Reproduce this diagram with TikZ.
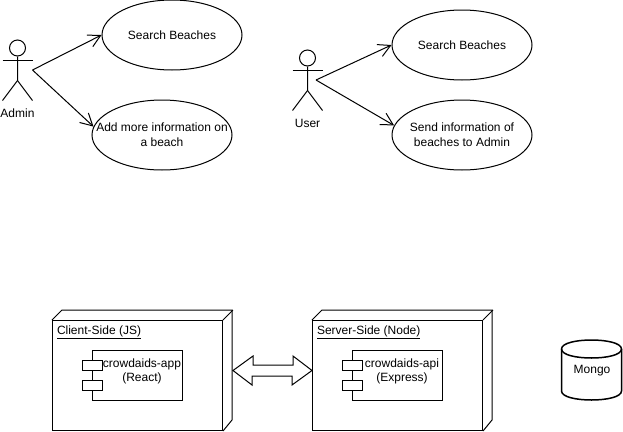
\documentclass[tikz,border=0pt]{standalone}
\usepackage{fontspec}
\setmainfont{Liberation Sans}
\usepackage{tikz}
\usetikzlibrary{arrows.meta,positioning,shapes.geometric}
\tikzset{
  usecase/.style={draw, ellipse, minimum width=140pt, minimum height=70pt, inner sep=0pt},
  head/.style={draw, circle, minimum size=16pt, inner sep=0pt},
  limb/.style={line width=1pt},
  lbl/.style={font=\fontsize{12}{14}\selectfont, align=center, inner sep=0pt},
  arr/.style={-{Straight Barb[length=12pt, width=13pt]}, line width=1pt},
  deploy/.style={draw, rectangle, minimum width=170pt, minimum height=110pt, inner sep=0pt, line width=1pt},
  comp/.style={draw, rectangle, minimum width=90pt, minimum height=50pt, inner sep=0pt, line width=1pt},
  port/.style={draw, rectangle, fill=white, minimum width=20pt, minimum height=10pt, inner sep=0pt, line width=1pt},
  store/.style={rectangle, minimum width=60pt, minimum height=60pt, inner sep=0pt},
  storeline/.style={line width=1.5pt},
  flow/.style={line width=1pt, line join=miter}
}
\begin{document}
\begin{tikzpicture}[x=1pt, y=-1pt, line width=1pt]
\useasboundingbox (0,0) rectangle (623,431);
% admin use cases
\node[head, limb] (adminhead) at (17.5,48) {};
\draw[limb] (adminhead.south) -- ++(0,24) coordinate (adminhip) -- ++(-15,20);
\draw[limb] (adminhip) -- ++(15,20);
\draw[limb] (2.5,60) -- (32.5,60);
\coordinate (adminhand) at (32.5,70);
\node[lbl] (admin) at (17.5,113) {Admin};
\node[usecase] (search) at (172,35) {};
\node[lbl] at (search) {Search Beaches};
\node[usecase] (addinfo) at (162,135) {};
\node[lbl] at (addinfo) {Add more information on\\[1pt]a beach};
\draw[arr] (adminhand) -- (search.west);
\draw[arr] (adminhand) -- (addinfo.173);
% user use cases
\node[head, limb] (userhead) at (307.5,58) {};
\draw[limb] (userhead.south) -- ++(0,24) coordinate (userhip) -- ++(-15,20);
\draw[limb] (userhip) -- ++(15,20);
\draw[limb] (292.5,70) -- (322.5,70);
\coordinate (userhand) at (316,80);
\node[lbl] (user) at (307.5,123) {User};
\node[usecase] (usearch) at (462,45) {};
\node[lbl] at (usearch) {Search Beaches};
\node[usecase] (sendinfo) at (462,135) {};
\node[lbl] at (sendinfo) {Send information of\\[1pt]beaches to Admin};
\draw[arr] (userhand) -- (usearch.west);
\draw[arr] (userhand) -- (sendinfo.172);
% deployment
\node[deploy] (client) at (137.5,375.5) {};
\draw[limb] (client.north west) -- ++(10,-10) -- ++(170,0) -- ++(0,110) -- (client.south east);
\draw[limb] (client.north east) -- ++(10,-10);
\node[lbl, anchor=west] (clienttitle) at (56.5,332) {\underline{Client-Side (JS)}};
\node[comp] (app) at (137.5,375.5) {};
\node[port] (appporta) at ([yshift=10pt]app.west) {};
\node[port] (appportb) at ([yshift=-10pt]app.west) {};
\node[lbl] (applabel) at (142,371) {crowdaids-app\\(React)};
\node[deploy] (server) at (397.5,375.5) {};
\draw[limb] (server.north west) -- ++(10,-10) -- ++(170,0) -- ++(0,110) -- (server.south east);
\draw[limb] (server.north east) -- ++(10,-10);
\node[lbl, anchor=west] (servertitle) at (316.5,332) {\underline{Server-Side (Node)}};
\node[comp] (api) at (397.5,375.5) {};
\node[port] (apiporta) at ([yshift=10pt]api.west) {};
\node[port] (apiportb) at ([yshift=-10pt]api.west) {};
\node[lbl] (apilabel) at (402,371) {crowdaids-api\\(Express)};
\coordinate (clientside) at ([xshift=10pt, yshift=5pt]client.east);
\coordinate (serverside) at ([yshift=5pt]server.west);
\draw[flow] (clientside) -- ++(20,-14.5) -- ++(0,9) -- ++(40,0) -- ++(0,-9) -- (serverside)
  -- ++(-20,14.5) -- ++(0,-9) -- ++(-40,0) -- ++(0,9) -- cycle;
\node[store, lbl] (mongo) at (592,370.5) {Mongo};
\draw[storeline] (mongo.north west) ++(0,9) .. controls ++(0,-12) and ++(0,-12) .. ++(60,0)
  -- ++(0,42) .. controls ++(0,12) and ++(0,12) .. ++(-60,0) -- cycle;
\draw[storeline] (mongo.north west) ++(0,9) .. controls ++(0,12) and ++(0,12) .. ++(60,0);
\end{tikzpicture}
\end{document}
